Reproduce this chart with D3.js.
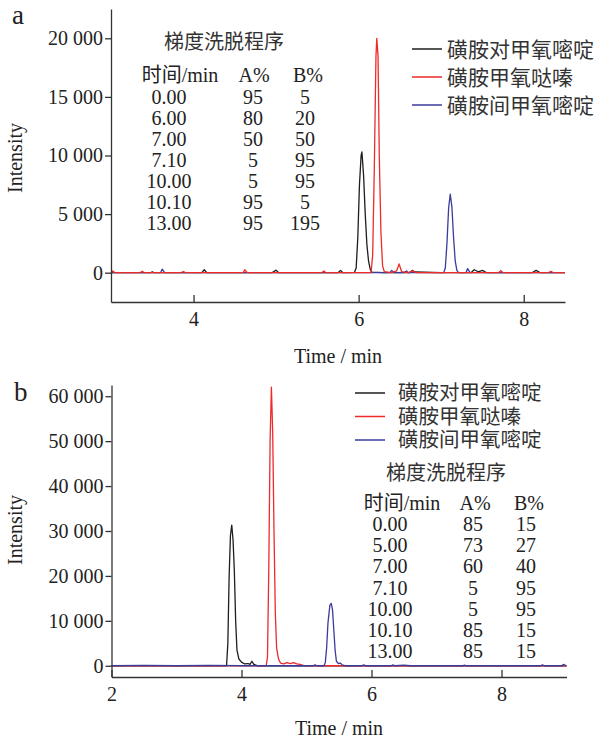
<!DOCTYPE html>
<html>
<head>
<meta charset="utf-8">
<script src="https://cdnjs.cloudflare.com/ajax/libs/d3/7.8.5/d3.min.js"></script>
<style>
  body { margin: 0; background: #fff; }
  svg { display: block; }
</style>
</head>
<body>
<div id="chart"></div>
<script>
// ---- data ----
var seriesNames = ["磺胺对甲氧嘧啶", "磺胺甲氧哒嗪", "磺胺间甲氧嘧啶"];
var seriesColors = ["#1e1e1e", "#ee2a2a", "#3b3b9c"];

var tableHead = ["时间/min", "A%", "B%"];
var tableTitle = "梯度洗脱程序";
var tableA = [["0.00","95","5"],["6.00","80","20"],["7.00","50","50"],["7.10","5","95"],["10.00","5","95"],["10.10","95","5"],["13.00","95","195"]];
var tableB = [["0.00","85","15"],["5.00","73","27"],["7.00","60","40"],["7.10","5","95"],["10.00","5","95"],["10.10","85","15"],["13.00","85","15"]];

var ticksAx = [4, 6, 8];
var ticksAy = [0, 5000, 10000, 15000, 20000];
var ticksBx = [2, 4, 6, 8];
var ticksBy = [0, 10000, 20000, 30000, 40000, 50000, 60000];

// panel a traces [time, intensity]
var aBlack = [[3.0,0],[3.48,0],[3.5,80],[3.52,0],[4.1,0],[4.13,250],[4.16,0],[4.95,0],[5.0,220],[5.03,0],[5.75,0],[5.78,200],[5.81,0],
  [5.95,30],[5.97,400],[5.99,3000],[6.01,7500],[6.03,10000],[6.04,10300],[6.06,8300],[6.08,5000],[6.10,2400],[6.12,1000],[6.14,300],[6.16,50],
  [6.3,0],[6.62,0],[6.65,200],[6.68,60],[6.8,40],[7.0,0],[7.36,0],[7.4,250],[7.45,80],[7.5,200],[7.55,0],[8.1,0],[8.15,200],[8.2,0],[8.5,0]];
var aRed = [[3.0,0],[3.02,150],[3.05,0],[3.35,0],[3.38,120],[3.4,0],[3.85,0],[3.88,100],[3.9,0],[4.6,0],[4.62,250],[4.65,0],
  [5.55,0],[5.58,150],[5.6,0],[6.15,0],[6.17,1500],[6.19,9000],[6.21,18500],[6.22,20000],[6.235,18500],[6.25,10000],[6.27,3500],[6.29,600],[6.31,100],
  [6.4,0],[6.46,150],[6.49,750],[6.52,100],[6.6,0],[6.65,150],[6.7,0],[7.7,0],[7.72,180],[7.75,0],[8.3,0],[8.33,120],[8.36,0],[8.5,0]];
var aBlue = [[3.0,0],[3.6,0],[3.62,300],[3.65,0],[6.38,0],[6.4,200],[6.43,0],[6.55,0],[6.58,150],[6.6,0],
  [7.03,0],[7.05,400],[7.07,2500],[7.09,5500],[7.11,6700],[7.13,5600],[7.15,3000],[7.17,1000],[7.19,200],[7.21,0],
  [7.3,0],[7.32,350],[7.35,0],[8.5,0]];

// panel b traces
var bBlack = [[2.0,0],[3.77,0],[3.79,5000],[3.81,20000],[3.83,29000],[3.85,31300],[3.87,28000],[3.89,21000],[3.91,10000],[3.93,3500],
  [3.96,1500],[4.0,800],[4.05,400],[4.1,500],[4.13,300],[4.16,1000],[4.19,300],[4.25,0],[9.0,0]];
var bRed = [[2.0,0],[4.38,0],[4.40,2000],[4.42,22000],[4.44,50000],[4.46,62000],[4.48,52000],[4.50,30000],[4.52,12000],[4.54,4000],
  [4.57,1500],[4.6,600],[4.65,400],[4.7,700],[4.75,500],[4.8,700],[4.85,400],[4.9,300],[4.95,100],[5.0,0],[9.0,0]];
var bBlue = [[2.0,0],[2.5,100],[3.0,0],[3.5,100],[4.0,0],[5.1,0],[5.13,200],[5.16,0],[5.27,0],[5.29,800],[5.31,4000],[5.33,9500],[5.36,13500],[5.38,13900],
  [5.40,12500],[5.42,8000],[5.44,3500],[5.46,1000],[5.49,500],[5.52,600],[5.55,200],[5.6,0],[5.85,0],[5.88,200],[5.91,0],
  [6.3,0],[6.33,200],[6.36,0],[6.5,150],[6.6,0],[7.4,0],[7.43,150],[7.46,0],[8.6,0],[8.63,200],[8.66,0],[8.93,0],[8.95,300],[9.0,0]];

// ---- drawing ----
var W = 595, H = 740;
var svg = d3.select("#chart").append("svg").attr("width", W).attr("height", H);

var serif = "'Liberation Serif', 'Times New Roman', serif";
var cjk = "'Liberation Serif', 'Noto Sans CJK SC', sans-serif";
var ink = "#222";

var locale = d3.formatLocale({decimal: ".", thousands: " ", grouping: [3], currency: ["", ""]});
var fmt = locale.format(",d");

function panel(opt) {
	var x = d3.scaleLinear().domain(opt.xd).range(opt.xr);
	var y = d3.scaleLinear().domain(opt.yd).range(opt.yr);

	var line = d3.line()
		.x(function(d) { return x(d[0]); })
		.y(function(d) { return y(d[1]); });

	var g = svg.append("g");

	// traces: [data, colour index], drawn in the given order
	opt.traces.forEach(function(t) {
		g.append("path")
			.datum(t[0])
			.attr("d", line)
			.attr("fill", "none")
			.attr("stroke", seriesColors[t[1]])
			.attr("stroke-width", 1.3)
			.attr("stroke-linejoin", "round");
	});

	var xAxis = d3.axisBottom(x).tickValues(opt.xt).tickSize(-7).tickSizeOuter(0).tickPadding(10).tickFormat(d3.format("d"));
	var yAxis = d3.axisLeft(y).tickValues(opt.yt).tickSize(6).tickSizeOuter(0).tickPadding(2).tickFormat(fmt);

	var gx = g.append("g").attr("transform", "translate(0," + opt.yr[0] + ")").call(xAxis);
	var gy = g.append("g").attr("transform", "translate(" + opt.xr[0] + ",0)").call(yAxis);

	[gx, gy].forEach(function(a) {
		a.attr("font-family", serif).attr("font-size", 20);
		a.selectAll("path, line").attr("stroke", "#333").attr("stroke-width", 1.3);
		a.selectAll("text").attr("fill", ink);
	});

	g.append("text")
		.attr("x", (opt.xr[0] + opt.xr[1]) / 2)
		.attr("y", opt.yr[0] + opt.titleDy)
		.attr("text-anchor", "middle")
		.attr("font-family", serif).attr("font-size", 20).attr("fill", ink)
		.text("Time / min");

	g.append("text")
		.attr("transform", "translate(22," + opt.ylabY + ") rotate(-90)")
		.attr("text-anchor", "middle")
		.attr("font-family", serif).attr("font-size", 20).attr("fill", ink)
		.text("Intensity");

	g.append("text")
		.attr("x", opt.tag[1]).attr("y", opt.tag[2])
		.attr("font-family", serif).attr("font-size", 27).attr("fill", ink)
		.text(opt.tag[0]);

	// legend
	var lg = opt.legend;
	seriesNames.forEach(function(n, i) {
		var yy = lg.y0 + i * lg.dy;
		g.append("line")
			.attr("x1", lg.x1).attr("x2", lg.x2).attr("y1", yy).attr("y2", yy)
			.attr("stroke", seriesColors[i]).attr("stroke-width", 1.5);
		g.append("text")
			.attr("x", lg.tx).attr("y", yy + lg.fs * 0.36)
			.attr("font-family", cjk).attr("font-size", lg.fs).attr("fill", "#333")
			.text(n);
	});

	// gradient table
	var tb = opt.table;
	g.append("text")
		.attr("x", tb.titleX).attr("y", tb.titleY + 7)
		.attr("text-anchor", "middle")
		.attr("font-family", cjk).attr("font-size", 20).attr("fill", "#333")
		.text(tableTitle);
	tableHead.forEach(function(h, j) {
		g.append("text")
			.attr("x", tb.headX[j]).attr("y", tb.headY)
			.attr("text-anchor", "middle")
			.attr("font-family", cjk).attr("font-size", 20).attr("fill", ink)
			.text(h);
	});
	tb.rows.forEach(function(r, i) {
		r.forEach(function(c, j) {
			g.append("text")
				.attr("x", tb.colX[j]).attr("y", tb.rowY0 + i * tb.rowDy)
				.attr("text-anchor", "middle")
				.attr("font-family", serif).attr("font-size", 20).attr("fill", ink)
				.text(c);
		});
	});
}

panel({
	xd: [3, 8.5], xr: [111, 565],
	yd: [-2500, 22500], yr: [302, 9],
	xt: ticksAx, yt: ticksAy,
	traces: [[aBlack, 0], [aBlue, 2], [aRed, 1]],
	titleDy: 61, ylabY: 158,
	tag: ["a", 12, 24],
	legend: {x1: 412, x2: 442, tx: 447, y0: 49, dy: 28, fs: 21},
	table: {titleX: 224, titleY: 42, headX: [180, 254, 308], headY: 82,
		colX: [169, 253, 305], rowY0: 103.5, rowDy: 21.1, rows: tableA}
});

panel({
	xd: [2, 9], xr: [111.5, 566.5],
	yd: [-2500, 62500], yr: [677, 385],
	xt: ticksBx, yt: ticksBy,
	traces: [[bBlack, 0], [bRed, 1], [bBlue, 2]],
	titleDy: 58, ylabY: 530,
	tag: ["b", 14, 401],
	legend: {x1: 355, x2: 385, tx: 398, y0: 393, dy: 23.5, fs: 20.5},
	table: {titleX: 446, titleY: 473, headX: [402, 475, 529], headY: 510,
		colX: [390, 473, 526], rowY0: 531, rowDy: 21.2, rows: tableB}
});
</script>
</body>
</html>
